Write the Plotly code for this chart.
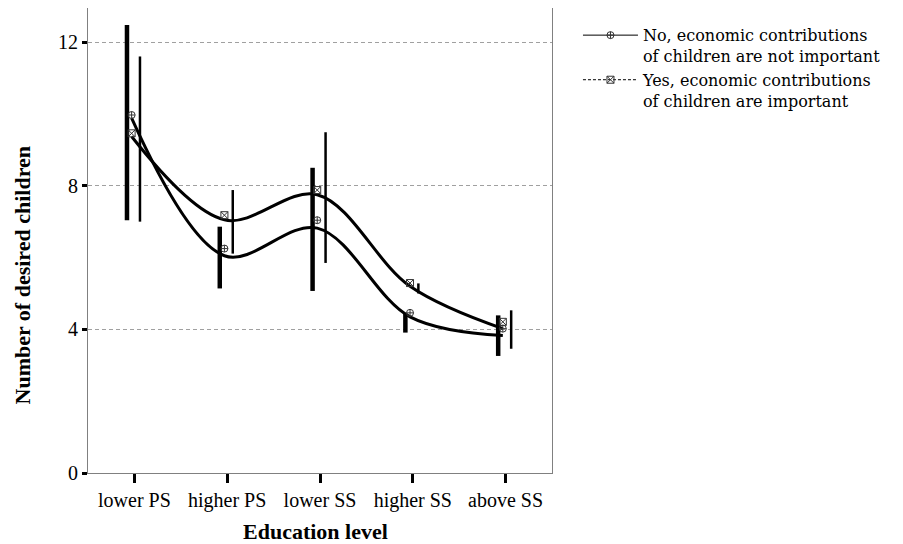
import plotly.graph_objects as go

# ---------------- data ----------------
categories = ["lower PS", "higher PS", "lower SS", "higher SS", "above SS"]
y_ticks = [0, 4, 8, 12]

no_mean = [9.88, 6.05, 6.82, 4.35, 3.83]
yes_mean = [9.37, 7.05, 7.75, 5.20, 4.02]

no_marker = [9.97, 6.25, 7.04, 4.46, 4.02]
yes_marker = [9.46, 7.18, 7.88, 5.29, 4.21]

no_low = [7.04, 5.14, 5.07, 3.91, 3.26]
no_high = [12.48, 6.86, 8.50, 4.44, 4.39]
yes_low = [7.00, 6.11, 5.85, 5.00, 3.46]
yes_high = [11.60, 7.88, 9.49, 5.28, 4.53]

no_label = "No, economic contributions<br>of children are not important"
yes_label = "Yes, economic contributions<br>of children are important"

# ---------------- style ----------------
FONT = "Liberation Serif, Times New Roman, serif"
LEG_FONT = "DejaVu Serif, serif"
line_off = -0.03
marker_off = -0.03
no_bar_off = -0.08
yes_bar_off = 0.06

idx = list(range(len(categories)))

fig = go.Figure()

# smoothed mean lines
fig.add_trace(go.Scatter(x=[i + line_off for i in idx], y=no_mean, mode="lines",
                         line=dict(color="black", width=3, shape="spline", smoothing=1.0),
                         showlegend=False, hoverinfo="skip"))
fig.add_trace(go.Scatter(x=[i + line_off for i in idx], y=yes_mean, mode="lines",
                         line=dict(color="black", width=3, shape="spline", smoothing=1.0),
                         showlegend=False, hoverinfo="skip"))

# error bars
def bar_trace(off, low, high, thick):
    centers = [(a + b) / 2 for a, b in zip(low, high)]
    return go.Scatter(
        x=[i + off for i in idx], y=centers, mode="markers",
        marker=dict(size=1, color="rgba(0,0,0,0)"),
        error_y=dict(type="data", symmetric=False,
                     array=[h - c for h, c in zip(high, centers)],
                     arrayminus=[c - l for l, c in zip(low, centers)],
                     width=0, thickness=thick, color="black"),
        showlegend=False, hoverinfo="skip")

fig.add_trace(bar_trace(no_bar_off, no_low, no_high, 4.5))
fig.add_trace(bar_trace(yes_bar_off, yes_low, yes_high, 2.5))

# markers
fig.add_trace(go.Scatter(x=[i + marker_off for i in idx], y=no_marker, mode="markers",
                         marker=dict(symbol="circle-cross-open", size=7, color="#333",
                                     line=dict(width=1, color="#333")),
                         showlegend=False))
fig.add_trace(go.Scatter(x=[i + marker_off for i in idx], y=yes_marker, mode="markers",
                         marker=dict(symbol="square-x-open", size=7, color="#333",
                                     line=dict(width=1, color="#333")),
                         showlegend=False))

# legend entries
fig.add_trace(go.Scatter(x=[None], y=[None], mode="lines+markers", name=no_label,
                         line=dict(color="black", width=1),
                         marker=dict(symbol="circle-cross-open", size=7, color="#333",
                                     line=dict(width=1, color="#333"))))
fig.add_trace(go.Scatter(x=[None], y=[None], mode="lines+markers", name=yes_label,
                         line=dict(color="black", width=1, dash="3px,2px"),
                         marker=dict(symbol="square-x-open", size=7, color="#333",
                                     line=dict(width=1, color="#333"))))

fig.update_layout(
    width=895, height=536,
    margin=dict(l=80, r=351, t=0, b=71, autoexpand=False),
    paper_bgcolor="white", plot_bgcolor="white",
    font=dict(family=FONT, color="black", size=18),
    showlegend=True,
    legend=dict(x=1.056, y=0.978, xanchor="left", yanchor="top",
                valign="top", itemwidth=55, font=dict(family=LEG_FONT, size=16),
                bgcolor="rgba(0,0,0,0)", tracegroupgap=0),
    xaxis=dict(range=[-0.5, 4.5], tickmode="array", tickvals=idx, ticktext=categories,
               showgrid=False, zeroline=False, showline=True, mirror=True,
               linecolor="#808080", linewidth=1,
               ticks="outside", ticklen=9, tickwidth=3, tickcolor="black",
               tickfont=dict(family=FONT, size=20)),
    yaxis=dict(range=[0, 12.95], tickmode="array", tickvals=y_ticks,
               showgrid=True, gridcolor="#a0a0a0", gridwidth=1, griddash="4px,3px",
               zeroline=False, showline=True, mirror=True,
               linecolor="#808080", linewidth=1,
               ticks="outside", ticklen=5, tickwidth=3, tickcolor="black",
               tickfont=dict(family=FONT, size=20)),
    annotations=[
        dict(text="<b>Education level</b>", xref="paper", yref="paper",
             x=0.49, y=-0.125, xanchor="center", yanchor="middle", showarrow=False,
             font=dict(family=FONT, size=22)),
        dict(text="<b>Number of desired children</b>", xref="paper", yref="paper",
             x=-0.142, y=0.425, xanchor="center", yanchor="middle", showarrow=False,
             textangle=-90, font=dict(family=FONT, size=22)),
    ],
)

fig.write_html("out.html")
